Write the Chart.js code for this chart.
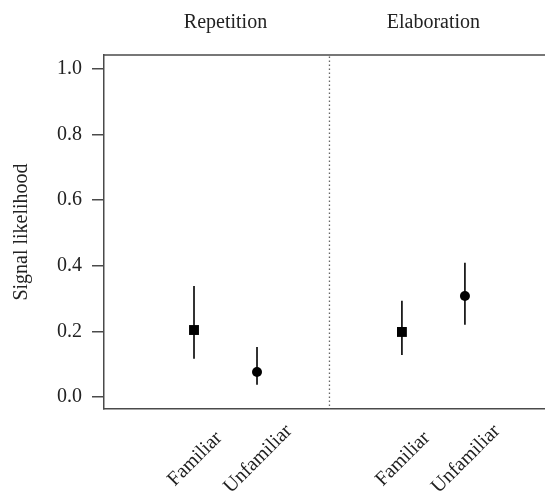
<!DOCTYPE html>
<html>
<head>
<meta charset="utf-8">
<script src="https://cdn.jsdelivr.net/npm/chart.js@4.4.1/dist/chart.umd.min.js"></script>
<style>
  html, body { margin: 0; padding: 0; background: #fff; }
  #wrap { width: 545px; height: 494px; }
</style>
</head>
<body>
<div id="wrap"><canvas id="chart"></canvas></div>
<script>
// Panels and conditions
const panels = ['Repetition', 'Elaboration'];
const familiarity = ['Familiar', 'Unfamiliar', 'Familiar', 'Unfamiliar'];
const xPos = [1, 2, 4.3, 5.3];
const dividerX = 3.15;

// Point estimates and intervals
const estimates = [0.204, 0.076, 0.198, 0.308];
const lower = [0.116, 0.037, 0.128, 0.220];
const upper = [0.338, 0.152, 0.293, 0.409];

const yTicks = [0, 0.2, 0.4, 0.6, 0.8, 1.0];

const serif = '"Liberation Serif", "DejaVu Serif", serif';
const frameColor = '#4a4a4a';

// error bar segments, separated by gaps
const barData = [];
xPos.forEach((x, i) => {
    barData.push({ x: x, y: lower[i] });
    barData.push({ x: x, y: upper[i] });
    barData.push({ x: x, y: null });
});

const familiarPts = [0, 2].map(i => ({ x: xPos[i], y: estimates[i] }));
const unfamiliarPts = [1, 3].map(i => ({ x: xPos[i], y: estimates[i] }));

// frame top line, rotated category labels and panel titles
const extras = {
    id: 'extras',
    afterDraw(chart) {
        const ctx = chart.ctx;
        const area = chart.chartArea;
        const xs = chart.scales.x;

        ctx.save();
        ctx.strokeStyle = frameColor;
        ctx.lineWidth = 1.5;
        ctx.beginPath();
        ctx.moveTo(area.left, area.top);
        ctx.lineTo(area.right, area.top);
        ctx.stroke();

        ctx.fillStyle = '#222';
        ctx.font = '20px ' + serif;
        ctx.textAlign = 'center';
        ctx.textBaseline = 'middle';
        xPos.forEach((x, i) => {
            const px = xs.getPixelForValue(x);
            ctx.save();
            ctx.translate(px + 1, area.bottom + 50);
            ctx.rotate(-Math.PI / 4);
            ctx.fillText(familiarity[i], 0, 0);
            ctx.restore();
        });

        ctx.textBaseline = 'alphabetic';
        panels.forEach((p, k) => {
            const cx = (xs.getPixelForValue(xPos[2 * k]) + xs.getPixelForValue(xPos[2 * k + 1])) / 2;
            ctx.fillText(p, cx, 28);
        });
        ctx.restore();
    }
};

const ctx = document.getElementById('chart').getContext('2d');
new Chart(ctx, {
    type: 'scatter',
    data: {
        datasets: [
            {
                type: 'line',
                data: [{ x: dividerX, y: -0.04 }, { x: dividerX, y: 1.05 }],
                borderColor: '#666',
                borderWidth: 1.3,
                borderDash: [1.5, 2.5],
                pointRadius: 0
            },
            {
                type: 'line',
                data: barData,
                borderColor: '#000',
                borderWidth: 1.6,
                pointRadius: 0,
                spanGaps: false
            },
            {
                data: familiarPts,
                pointStyle: 'rect',
                pointRadius: 7,
                backgroundColor: '#000',
                borderColor: '#000',
                borderWidth: 0
            },
            {
                data: unfamiliarPts,
                pointStyle: 'circle',
                pointRadius: 5,
                backgroundColor: '#000',
                borderColor: '#000',
                borderWidth: 0
            }
        ]
    },
    options: {
        responsive: true,
        maintainAspectRatio: false,
        animation: false,
        layout: { autoPadding: false, padding: { top: 55, bottom: 85, left: 0, right: 0 } },
        plugins: {
            legend: { display: false },
            tooltip: { enabled: false }
        },
        scales: {
            x: {
                type: 'linear',
                min: -0.4286,
                max: 6.571,
                ticks: { display: false },
                grid: { display: false },
                border: { display: true, color: frameColor, width: 1.5 },
                afterFit: s => { s.height = 0; s.paddingLeft = 0; s.paddingRight = 0; }
            },
            y: {
                min: -0.037,
                max: 1.043,
                afterBuildTicks: s => { s.ticks = yTicks.map(v => ({ value: v })); },
                ticks: {
                    color: '#222',
                    padding: 10,
                    font: { family: serif, size: 20 },
                    callback: v => v.toFixed(1)
                },
                grid: {
                    drawOnChartArea: false,
                    drawTicks: true,
                    tickLength: 12,
                    color: frameColor,
                    lineWidth: 1.5
                },
                border: { display: true, color: frameColor, width: 1.5 },
                title: {
                    display: true,
                    text: 'Signal likelihood',
                    color: '#222',
                    font: { family: serif, size: 20 },
                    padding: { top: 10, bottom: 0 }
                },
                afterFit: s => { s.width = 104; s.paddingTop = 0; s.paddingBottom = 0; }
            }
        }
    },
    plugins: [extras]
});
</script>
</body>
</html>
